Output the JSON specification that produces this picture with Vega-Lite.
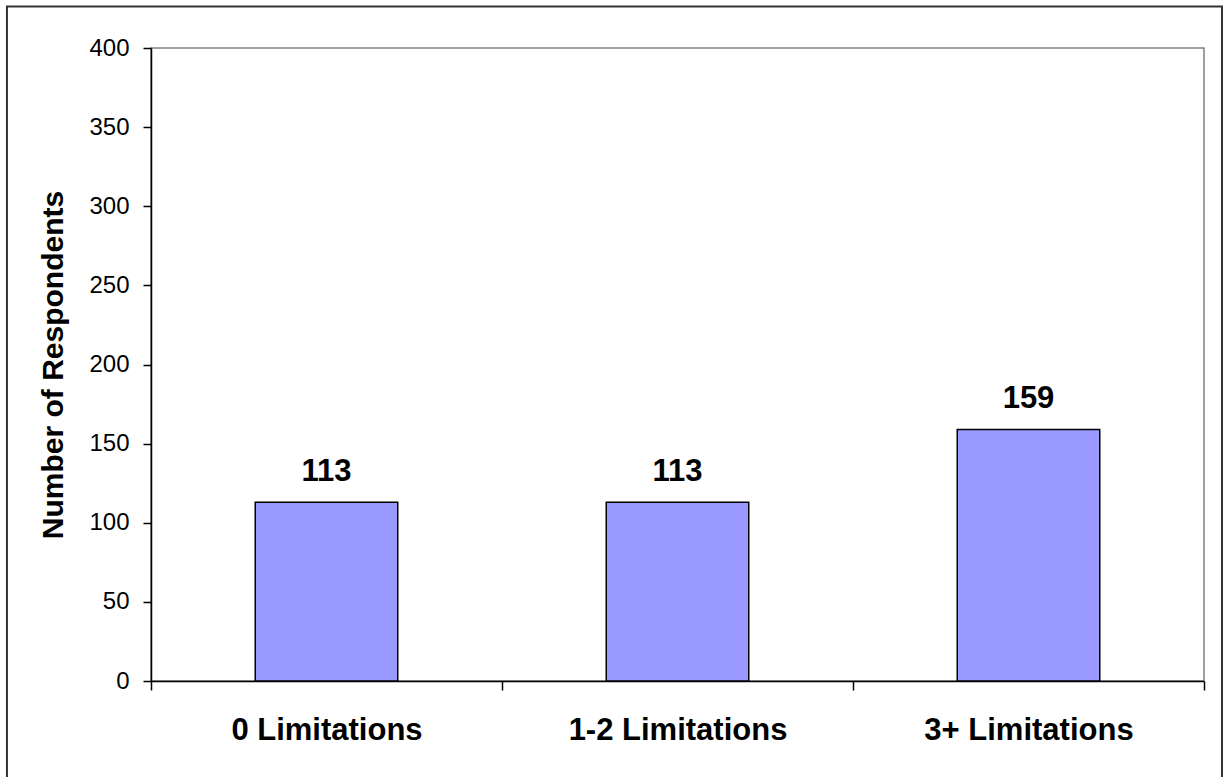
{
  "$schema": "https://vega.github.io/schema/vega-lite/v6.json",
  "width": 1053,
  "height": 633,
  "autosize": {"type": "none"},
  "padding": {"left": 151, "top": 48, "right": 23, "bottom": 96},
  "background": "white",
  "config": {
    "view": {"stroke": "#808080", "strokeWidth": 1.5},
    "font": "Liberation Sans",
    "axis": {
      "grid": false, "labelFont": "Liberation Sans", "labelColor": "#000000",
      "tickColor": "#000000", "tickWidth": 1.5, "domainColor": "#000000", "domainWidth": 1.5,
      "titleFont": "Liberation Sans", "titleColor": "#000000"
    },
    "axisX": {
      "labelAngle": 0, "labelFontSize": 31, "labelFontWeight": "bold", "labelPadding": 25,
      "labelLimit": 0, "tickBand": "extent", "tickSize": 9
    },
    "axisY": {
      "labelFontSize": 24, "labelPadding": 14, "tickSize": 8,
      "titleFontSize": 30, "titleFontWeight": "bold", "titlePadding": 20
    }
  },
  "data": {
    "values": [
      {"category": "0 Limitations", "respondents": 113},
      {"category": "1-2 Limitations", "respondents": 113},
      {"category": "3+ Limitations", "respondents": 159}
    ]
  },
  "layer": [
    {
      "layer": [
        {
          "mark": {"type": "bar", "fill": "#9999FF", "stroke": "#000000", "strokeWidth": 1.5, "width": {"band": 0.406}},
          "encoding": {
            "x": {
              "field": "category", "type": "nominal", "sort": null,
              "scale": {"paddingInner": 0, "paddingOuter": 0},
              "axis": {"title": null}
            },
            "y": {
              "field": "respondents", "type": "quantitative",
              "scale": {"domain": [0, 400], "nice": false},
              "axis": {"title": "Number of Respondents", "values": [0, 50, 100, 150, 200, 250, 300, 350, 400]}
            }
          }
        },
        {
          "mark": {"type": "text", "fontSize": 31, "fontWeight": "bold", "font": "Liberation Sans", "baseline": "alphabetic", "dy": -21, "color": "#000000"},
          "encoding": {
            "x": {"field": "category", "type": "nominal", "sort": null},
            "y": {"field": "respondents", "type": "quantitative"},
            "text": {"field": "respondents", "type": "quantitative"}
          }
        }
      ]
    },
    {
      "data": {"values": [{}]},
      "mark": {"type": "rect", "filled": false, "stroke": "#333333", "strokeWidth": 2},
      "encoding": {
        "x": {"datum": -0.1368, "type": "quantitative", "scale": {"domain": [0, 1], "nice": false, "zero": false}, "axis": null},
        "x2": {"datum": 1.0171},
        "y": {"datum": 426.2, "type": "quantitative"},
        "y2": {"datum": -62}
      }
    }
  ],
  "resolve": {"scale": {"x": "independent"}}
}
